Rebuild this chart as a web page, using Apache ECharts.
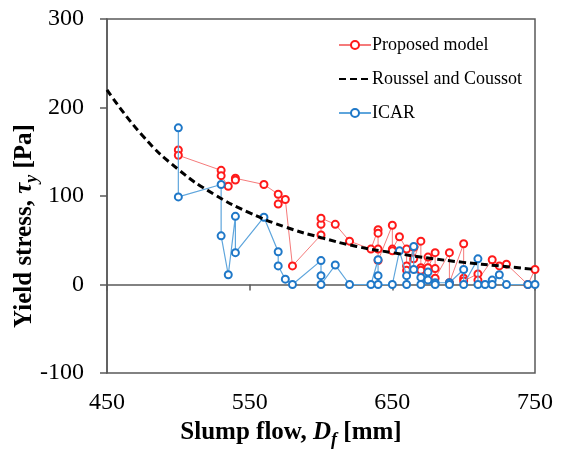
<!DOCTYPE html>
<html><head><meta charset="utf-8">
<script src="https://cdn.jsdelivr.net/npm/echarts@6/dist/echarts.min.js"></script>
<style>html,body{margin:0;padding:0;background:#fff}#c{width:566px;height:452px}</style>
</head><body><div id="c"></div>
<script>
// Proposed model
const propX = [500,500,530,530,535,540,540,560,570,570,575,580,600,600,600,610,620,635,640,640,640,640,650,650,650,655,660,660,660,665,665,670,670,670,675,675,680,680,680,690,690,700,700,700,710,710,720,725,730,745,750];
const propY = [152,146,129,123,111,120,118,113,102,91,96,21,56,68,75,68,49,40,62,58,40,27,67,40,38,54,40,21,16,42,29,49,19,16,31,19,36,18,7,36,2,46,7,4,12,5,28,21,23,0,17];
// ICAR
const icarX = [500,500,530,530,535,540,540,560,570,570,575,580,600,600,600,610,620,635,640,640,640,650,655,660,660,665,665,670,670,675,675,680,680,690,690,700,700,710,710,715,720,720,725,730,745,750];
const icarY = [177,99,113,55,11,77,36,76,37,21,6,0,27,10,0,22,0,0,28,10,0,0,38,10,0,43,17,8,0,14,5,2,0,2,0,17,0,29,0,0,5,0,11,0,0,0];
// Roussel and Coussot
const rcX = [450,475,500,525,550,575,600,625,650,675,700,725,750];
const rcY = [220,168,130,102,81,65,53,43,36,30,25,21,17];
const xTicks = [450,550,650,750];
const yTicks = [-100,0,100,200,300];

const pairs = (xs, ys) => xs.map((x, i) => [x, ys[i]]);
const serif = '"Liberation Serif","Times New Roman",serif';
const chart = echarts.init(document.getElementById('c'));
chart.setOption({
  animation: false,
  backgroundColor: '#fff',
  grid: { left: 107, right: 31, top: 19, bottom: 79, show: true, borderColor: '#595959', borderWidth: 1.5 },
  legend: {
    orient: 'vertical', left: 333, top: 31, itemWidth: 32, itemHeight: 10, itemGap: 16,
    textStyle: { fontFamily: serif, fontSize: 18, color: '#000', padding: [0,0,0,-4] },
    data: ['Proposed model', { name: 'Roussel and Coussot', itemStyle: { opacity: 0 } }, 'ICAR']
  },
  xAxis: {
    type: 'value', min: xTicks[0], max: xTicks[xTicks.length-1], interval: 100,
    axisLine: { show: true, lineStyle: { color: '#595959', width: 1.5 } },
    axisTick: { show: true, inside: false, length: 6, lineStyle: { color: '#595959', width: 1.5 } },
    axisLabel: { fontFamily: serif, fontSize: 24, color: '#000', margin: 18 },
    splitLine: { show: false }
  },
  yAxis: {
    type: 'value', min: yTicks[0], max: yTicks[yTicks.length-1], interval: 100,
    axisLine: { show: true, lineStyle: { color: '#595959', width: 1.5 } },
    axisTick: { show: true, inside: false, length: 7, lineStyle: { color: '#595959', width: 1.5 } },
    axisLabel: { fontFamily: serif, fontSize: 24, color: '#000', margin: 23 },
    splitLine: { show: false }
  },
  series: [
    { name: 'Proposed model', type: 'line', data: pairs(propX, propY), z: 2,
      symbol: 'emptyCircle', symbolSize: 7,
      lineStyle: { color: '#f57a7a', width: 1 },
      itemStyle: { color: '#ff1a1a', borderColor: '#ff1a1a', borderWidth: 1.5 } },
    { name: 'Roussel and Coussot', type: 'line', data: pairs(rcX, rcY), z: 4, smooth: true,
      symbol: 'none', lineStyle: { color: '#000', width: 3, type: [7, 4] },
      itemStyle: { color: '#000' } },
    { name: 'ICAR', type: 'line', data: pairs(icarX, icarY), z: 3,
      symbol: 'emptyCircle', symbolSize: 7,
      lineStyle: { color: '#5ea5dc', width: 1.2 },
      itemStyle: { color: '#1f78c8', borderColor: '#1f78c8', borderWidth: 1.5 } }
  ],
  graphic: [
    { type: 'text', x: 291, y: 433, style: {
        text: '{b|Slump flow, }{i|D}{s|f}{b| [mm]}', align: 'center', verticalAlign: 'middle',
        rich: {
          b: { fontFamily: serif, fontSize: 25, fontWeight: 'bold', fill: '#000' },
          i: { fontFamily: serif, fontSize: 25, fontWeight: 'bold', fontStyle: 'italic', fill: '#000' },
          s: { fontFamily: serif, fontSize: 18, fontWeight: 'bold', fontStyle: 'italic', fill: '#000', padding: [14,0,0,0] }
        } } },
    { type: 'text', x: 25, y: 226, rotation: Math.PI / 2, style: {
        text: '{b|Yield stress, }{i|τ}{s|y}{b| [Pa]}', align: 'center', verticalAlign: 'middle',
        rich: {
          b: { fontFamily: serif, fontSize: 25, fontWeight: 'bold', fill: '#000' },
          i: { fontFamily: serif, fontSize: 25, fontWeight: 'bold', fontStyle: 'italic', fill: '#000' },
          s: { fontFamily: serif, fontSize: 18, fontWeight: 'bold', fontStyle: 'italic', fill: '#000', padding: [14,0,0,0] }
        } } }
  ]
});
</script></body></html>
